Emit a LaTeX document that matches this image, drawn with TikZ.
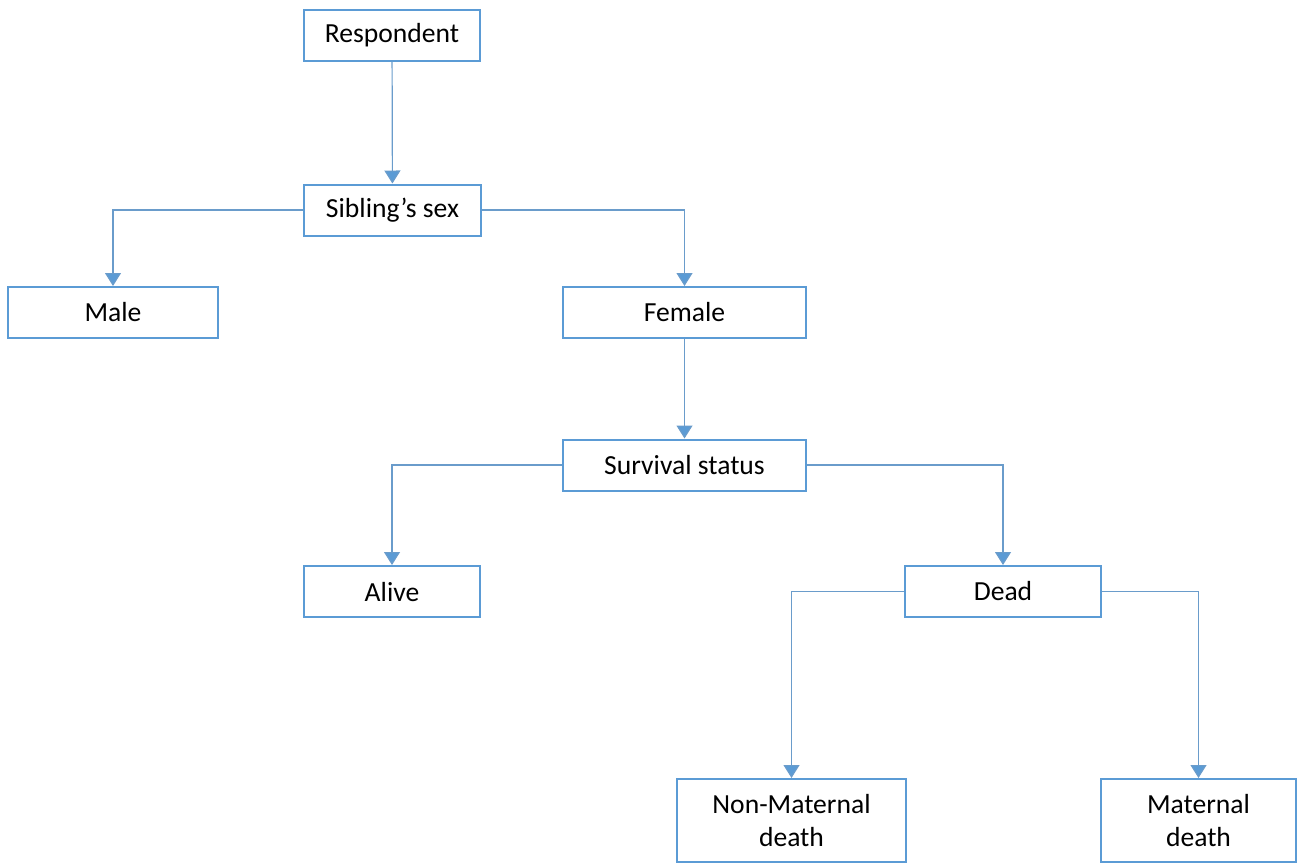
\documentclass[tikz,border=0pt]{standalone}
\usepackage{fontspec}
\setmainfont{Carlito}
\usetikzlibrary{arrows.meta}
\definecolor{boxblue}{HTML}{5B9BD5}
\definecolor{linkblue}{HTML}{6A9CCB}

\tikzset{
  box/.style={draw=boxblue,line width=1pt,fill=white,minimum height=25.5pt,
    inner sep=0pt,font=\fontsize{13.8}{16.5}\selectfont,align=center},
  tallbox/.style={box,minimum height=41.5pt},
  link/.style={draw=linkblue,line width=0.6pt,
    -{Triangle[width=8pt,length=6.5pt,fill=boxblue]}}
}

\begin{document}
\begin{tikzpicture}[x=0.5pt,y=0.5pt]
  \useasboundingbox (0,0) rectangle (1306,-864);
  % boxes
  \node[box,minimum width=88pt] (resp) at (392,-35) {Respondent};
  \node[box,minimum width=88.5pt] (sib) at (392.5,-210) {Sibling’s sex};
  \node[box,minimum width=105pt] (male) at (113,-312.5) {Male};
  \node[box,minimum width=121.5pt] (female) at (684.5,-312.5) {Female};
  \node[box,minimum width=121.5pt] (surv) at (684.5,-465) {Survival status};
  \node[box,minimum width=88pt] (alive) at (392,-591.5) {Alive};
  \node[box,minimum width=98pt] (dead) at (1003,-591.5) {Dead};
  \node[tallbox,minimum width=114.5pt] (nonmat) at (791.5,-820.5) {Non-Maternal\\death};
  \node[tallbox,minimum width=97.5pt] (mat) at (1198.5,-820.5) {Maternal\\death};
  % connectors
  \draw[link] (resp) -- (sib);
  \draw[link] (sib.west) -| (male.north);
  \draw[link] (sib.east) -| (female.north);
  \draw[link] (female) -- (surv);
  \draw[link] (surv.west) -| (alive.north);
  \draw[link] (surv.east) -| (dead.north);
  \draw[link] (dead.west) -| (nonmat.north);
  \draw[link] (dead.east) -| (mat.north);
\end{tikzpicture}
\end{document}
